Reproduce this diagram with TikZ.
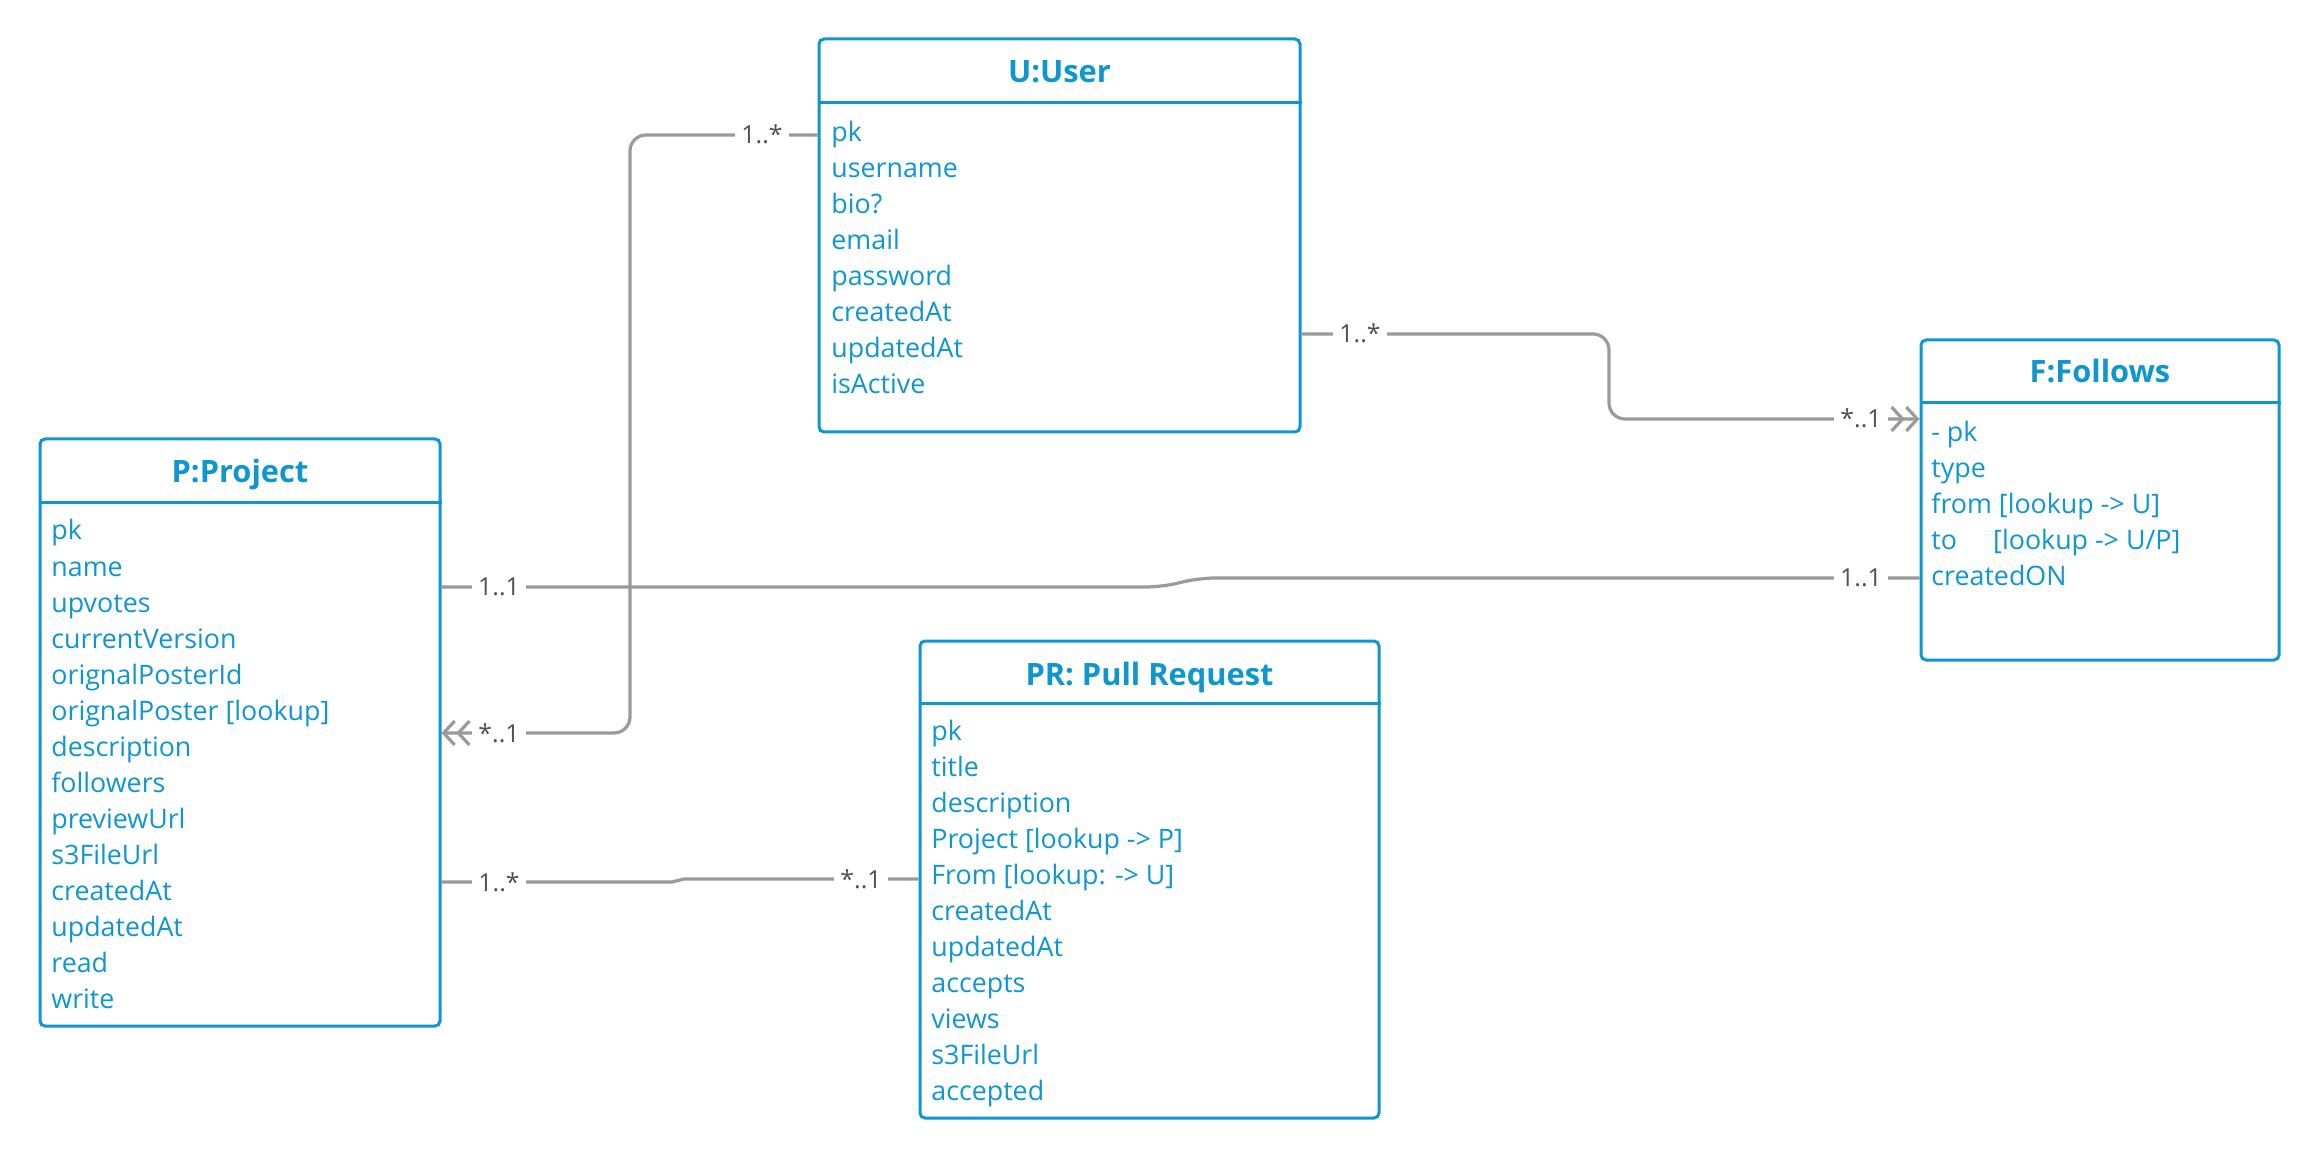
\documentclass[tikz,border=0pt]{standalone}
\usepackage{fontspec}
\setmainfont{Open Sans}
\usetikzlibrary{arrows.meta}
\definecolor{umlblue}{HTML}{0E96D1}
\definecolor{connc}{HTML}{9A9A9A}
\definecolor{lbltext}{HTML}{505050}
\begin{document}
\begin{tikzpicture}[x=0.5pt,y=-0.5pt,
 box/.style={draw=umlblue, line width=1.5pt, rounded corners=2.5pt, inner sep=0pt, fill=white},
 hdr/.style={draw=umlblue, line width=1.5pt},
 ttl/.style={anchor=base, text=umlblue, font=\fontsize{15.4}{18}\selectfont\bfseries, inner sep=0pt},
 row/.style={anchor=base west, text=umlblue, font=\fontsize{13.4}{16}\selectfont, inner sep=0pt},
 connector/.style={draw=connc, line width=1.6pt, rounded corners=8pt},
 lbl/.style={anchor=base, fill=white, text=lbltext, font=\fontsize{12.4}{14}\selectfont, inner xsep=3pt, inner ysep=1pt},
 dbl/.style={-{Straight Barb[length=5.5pt,width=12pt,line width=1.6pt]Straight Barb[length=5.5pt,width=12pt,line width=1.6pt]}}]
\useasboundingbox (0,0) rectangle (2320,1160);

% ---------- boxes ----------
\node[box, minimum width=240.5pt, minimum height=196.5pt] (u) at (1059.5,235.5) {};
\node[box, minimum width=200pt, minimum height=293.5pt] (p) at (240,732.5) {};
\node[box, minimum width=229.5pt, minimum height=238.5pt] (pr) at (1149.5,879.5) {};
\node[box, minimum width=179pt, minimum height=160pt] (f) at (2100,500) {};

\draw[hdr] (u.west |- 0,103) -- (u.east |- 0,103);
\draw[hdr] (p.west |- 0,503) -- (p.east |- 0,503);
\draw[hdr] (pr.west |- 0,703) -- (pr.east |- 0,703);
\draw[hdr] (f.west |- 0,403) -- (f.east |- 0,403);

\node[ttl] (ut) at (1059.5,83) {U:User};
\node[ttl] (pt) at (240,483) {P:Project};
\node[ttl] (prt) at (1149.5,685) {PR: Pull Request};
\node[ttl] (ft) at (2100,383) {F:Follows};

% ---------- user rows ----------
\foreach \t [count=\i from 0] in {pk,username,bio?,email,password,createdAt,updatedAt,isActive}
  \node[row] (ur\i) at (831,142+36*\i) {\t};

% ---------- project rows ----------
\foreach \t [count=\i from 0] in {pk,name,upvotes,currentVersion,orignalPosterId,orignalPoster [lookup],description,followers,previewUrl,s3FileUrl,createdAt,updatedAt,read,write}
  \node[row] (pr\i) at (51,540+36*\i) {\t};

% ---------- pull request rows ----------
\foreach \t [count=\i from 0] in {pk,title,description,Project [lookup -> P],From [lookup: -> U],createdAt,updatedAt,accepts,views,s3FileUrl,accepted}
  \node[row] (qr\i) at (931,740+36*\i) {\t};

% ---------- follows rows ----------
\node[row] (fr0) at (1931,442) {- pk};
\node[row] (fr1) at (1931,478) {type};
\node[row] (fr2) at (1931,514) {from [lookup -> U]};
\node[row] (fr3) at (1931,550) {to\hspace{1.35em}[lookup -> U/P]};
\node[row] (fr4) at (1931,586) {createdON};

% ---------- connectors ----------
\draw[connector, dbl] (u.west |- 0,135) -- (630,135) -- (630,733) -- (p.east |- 0,733);
\draw[connector, dbl] (u.east |- 0,334) -- (1609,334) -- (1609,419) -- (f.west |- 0,419);
\draw[connector] (p.east |- 0,587) -- (1162,587) -- (1199,578) -- (f.west |- 0,578);
\draw[connector, sharp corners] (p.east |- 0,882) -- (672,882) -- (684,879) -- (pr.west |- 0,879);

% ---------- multiplicity labels ----------
\node[lbl] (l1) at (762,144) {1..*};
\node[lbl] (l2) at (499,742) {*..1};
\node[lbl] (l3) at (1360,343) {1..*};
\node[lbl] (l4) at (1861,428) {*..1};
\node[lbl] (l5) at (499,596) {1..1};
\node[lbl] (l6) at (1861,587) {1..1};
\node[lbl] (l7) at (499,891) {1..*};
\node[lbl] (l8) at (861,888) {*..1};
\end{tikzpicture}
\end{document}
